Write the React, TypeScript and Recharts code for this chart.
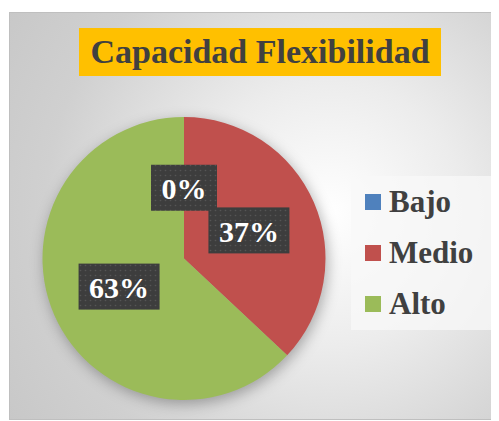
import React from 'react';
import { PieChart, Pie, Cell, Legend } from 'recharts';

const categories = ['Bajo', 'Medio', 'Alto'];
const values = [0, 37, 63];
const colors = ['#4F81BD', '#C0504D', '#9BBB59'];
const title = 'Capacidad Flexibilidad';

const data = categories.map((name, i) => ({ name, value: values[i] }));

const SERIF = '"Liberation Serif", "DejaVu Serif", serif';
const RAD = Math.PI / 180;

// rough width of bold serif digits / percent sign
const textWidth = (s: string, size: number) =>
  s.split('').reduce((w, ch) => w + (ch === '%' ? 1.0 : 0.5), 0) * size;

const renderLabel = (props: any) => {
  const { cx, cy, midAngle, outerRadius, value, index } = props;
  const r = outerRadius * 0.5;
  const x = cx + r * Math.cos(-midAngle * RAD);
  const y = cy + r * Math.sin(-midAngle * RAD);
  const text = `${value}%`;
  const w = textWidth(text, 30) + 21;
  const h = 46;
  return (
    <g key={`lbl-${index}`}>
      <defs>
        <pattern id={`dots-${index}`} width="5" height="5" patternUnits="userSpaceOnUse">
          <rect width="5" height="5" fill="#3d3d3d" />
          <circle cx="2.5" cy="2.5" r="0.8" fill="#555" />
        </pattern>
      </defs>
      <rect x={x - w / 2} y={y - h / 2} width={w} height={h} fill={`url(#dots-${index})`} />
      <text
        x={x}
        y={y + 1}
        textAnchor="middle"
        dominantBaseline="central"
        fill="#ffffff"
        fontFamily={SERIF}
        fontWeight="bold"
        fontSize={30}
      >
        {text}
      </text>
    </g>
  );
};

const renderLegend = () => (
  <div
    style={{
      width: 144,
      height: 154,
      background: 'rgba(248,248,248,0.75)',
      boxSizing: 'border-box',
      paddingTop: 0,
    }}
  >
    {categories.map((c, i) => (
      <div key={c} style={{ display: 'flex', alignItems: 'center', height: 51, paddingLeft: 14 }}>
        <span style={{ width: 16, height: 16, background: colors[i], marginRight: 8 }} />
        <span style={{ fontFamily: SERIF, fontWeight: 'bold', fontSize: 31, color: '#404040' }}>{c}</span>
      </div>
    ))}
  </div>
);

export default function App() {
  return (
    <div style={{ position: 'relative', width: 491, height: 413 }}>
      <style>{`.recharts-pie { filter: drop-shadow(2px 4px 7px rgba(0,0,0,0.3)); }`}</style>
      <div
        style={{
          position: 'absolute',
          left: 1,
          top: 4,
          width: 490,
          height: 408,
          boxSizing: 'border-box',
          border: '1px solid #bfbfbf',
          background: 'radial-gradient(circle at 320px 200px, #ffffff 0%, #ececec 35%, #d0d0d0 75%, #c8c8c8 100%)',
        }}
      />
      <div
        style={{
          position: 'absolute',
          left: 71,
          top: 20,
          width: 362,
          height: 48,
          background: '#FFC000',
          color: '#404040',
          fontFamily: SERIF,
          fontWeight: 'bold',
          fontSize: 34,
          lineHeight: '48px',
          textAlign: 'center',
          whiteSpace: 'pre',
        }}
      >
        {title}
      </div>
      <div style={{ position: 'absolute', left: 0, top: 0 }}>
        <PieChart width={491} height={413} margin={{ top: 0, right: 0, bottom: 0, left: 0 }}>
          <Pie
            data={data}
            dataKey="value"
            nameKey="name"
            cx={176}
            cy={250.5}
            outerRadius={141.5}
            startAngle={90}
            endAngle={-270}
            stroke="none"
            labelLine={false}
            label={renderLabel}
            isAnimationActive={false}
          >
            {data.map((d, i) => (
              <Cell key={d.name} fill={colors[i]} />
            ))}
          </Pie>
          <Legend
            layout="vertical"
            align="right"
            verticalAlign="top"
            content={renderLegend}
            wrapperStyle={{ left: 343, top: 168, width: 144, height: 154 }}
          />
        </PieChart>
      </div>
    </div>
  );
}
